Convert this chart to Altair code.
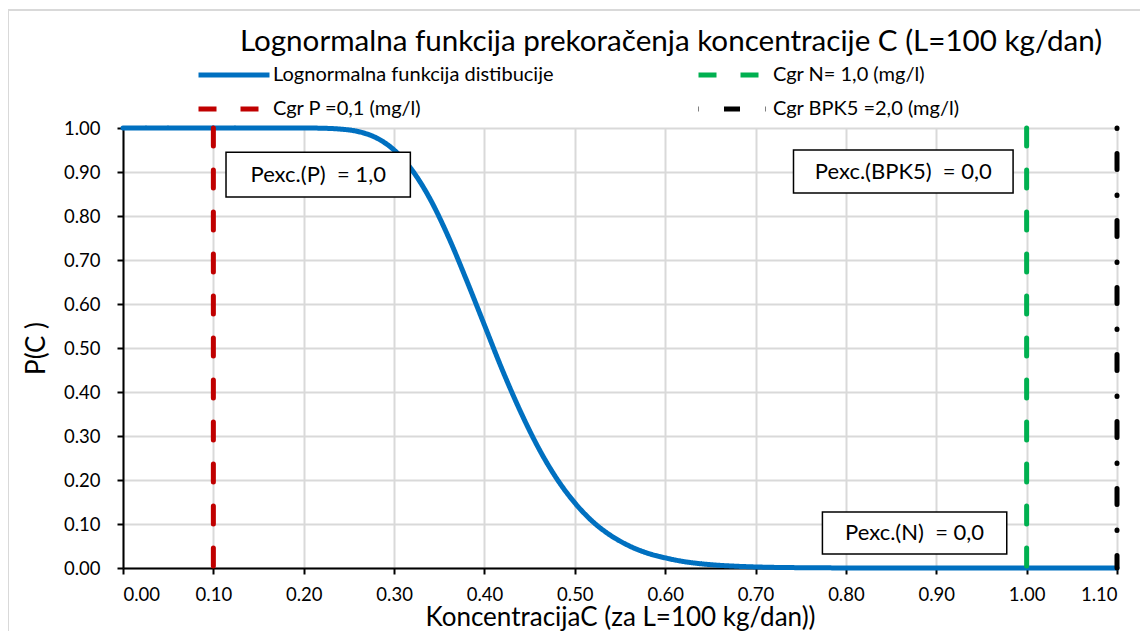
import altair as alt
import pandas as pd

# ---- data ----
conc = [0.00, 0.05, 0.10, 0.15, 0.20, 0.22, 0.24, 0.26, 0.28, 0.30, 0.32, 0.34, 0.36,
        0.38, 0.40, 0.42, 0.44, 0.46, 0.48, 0.50, 0.52, 0.54, 0.56, 0.58, 0.60, 0.62,
        0.64, 0.66, 0.68, 0.70, 0.75, 0.80, 0.90, 1.00, 1.10]
prob = [1.000, 1.000, 1.000, 1.000, 1.000, 0.9995, 0.9976, 0.992, 0.978, 0.950, 0.904,
        0.838, 0.753, 0.655, 0.552, 0.449, 0.355, 0.272, 0.203, 0.148, 0.105, 0.0735,
        0.0504, 0.034, 0.023, 0.0148, 0.0095, 0.0061, 0.0039, 0.0024, 0.0007, 0.0002,
        0.0, 0.0, 0.0]

# legend order (filled column by column): col 1 = curve, P ; col 2 = N, BPK5
series_names = ["Lognormalna funkcija distibucije", "Cgr P =0,1 (mg/l)",
                "Cgr N= 1,0 (mg/l)", "Cgr BPK5 =2,0 (mg/l)"]
series_colors = ["#0070C0", "#C00000", "#00B050", "#000000"]
series_dash = [[1, 0], [18, 24], [18, 24], [0.5, 25, 16, 25.5]]

limit_names = ["Cgr N= 1,0 (mg/l)", "Cgr P =0,1 (mg/l)", "Cgr BPK5 =2,0 (mg/l)"]
limit_x = [1.00, 0.10, 1.10]

NB = "\u00a0"
box_labels = ["Pexc.(P)" + NB + " = 1,0", "Pexc.(BPK5)" + NB + " = 0,0", "Pexc.(N)" + NB + " = 0,0"]
box_x0 = [0.114, 0.742, 0.774]
box_x1 = [0.318, 0.985, 0.978]
box_top = [0.945, 0.950, 0.127]
box_bot = [0.843, 0.852, 0.032]

x_ticks = [0.0, 0.1, 0.2, 0.3, 0.4, 0.5, 0.6, 0.7, 0.8, 0.9, 1.0, 1.1]
y_ticks = [0.0, 0.1, 0.2, 0.3, 0.4, 0.5, 0.6, 0.7, 0.8, 0.9, 1.0]

FONT = "Lato"

curve_df = pd.DataFrame({"x": conc, "y": prob, "series": series_names[0]})
rule_df = pd.DataFrame({"x": limit_x, "top": 1.0, "bottom": 0.0, "series": limit_names})
box_df = pd.DataFrame({"label": box_labels, "x0": box_x0, "x1": box_x1,
                       "top": box_top, "bot": box_bot})
box_df["xm"] = (box_df["x0"] + box_df["x1"]) / 2
box_df["ym"] = (box_df["top"] + box_df["bot"]) / 2

xscale = alt.Scale(domain=[0, 1.1], nice=False, zero=False)
yscale = alt.Scale(domain=[0, 1.0], nice=False)

xaxis = alt.Axis(values=x_ticks, format=".2f", title="KoncentracijaC (za L=100 kg/dan))")
yaxis = alt.Axis(values=y_ticks, format=".2f", title="P(C )")

color = alt.Color("series:N", scale=alt.Scale(domain=series_names, range=series_colors),
                  legend=alt.Legend(title=None))
dash = alt.StrokeDash("series:N", scale=alt.Scale(domain=series_names, range=series_dash),
                      legend=alt.Legend(title=None))

curve = alt.Chart(curve_df).mark_line(strokeWidth=5, interpolate="monotone", strokeCap="round").encode(
    x=alt.X("x:Q", scale=xscale, axis=xaxis),
    y=alt.Y("y:Q", scale=yscale, axis=yaxis),
    color=color,
    strokeDash=dash,
)

rules = alt.Chart(rule_df).mark_rule(strokeWidth=5, strokeCap="round").encode(
    x=alt.X("x:Q", scale=xscale),
    y=alt.Y("top:Q", scale=yscale),
    y2="bottom:Q",
    color=color,
    strokeDash=dash,
)

boxes = alt.Chart(box_df).mark_rect(fill="white", stroke="black", strokeWidth=1.5).encode(
    x=alt.X("x0:Q", scale=xscale), x2="x1:Q",
    y=alt.Y("top:Q", scale=yscale), y2="bot:Q",
)
box_text = alt.Chart(box_df).mark_text(fontSize=22, font=FONT, color="black").encode(
    x=alt.X("xm:Q", scale=xscale), y=alt.Y("ym:Q", scale=yscale), text="label:N"
)

border = alt.Chart(pd.DataFrame({"a": [0]})).mark_rect(
    fillOpacity=0, stroke="#d9d9d9", strokeWidth=2).encode(
    x=alt.value(-115), x2=alt.value(1040), y=alt.value(-118), y2=alt.value(530)
)

chart = alt.layer(border, curve, rules, boxes, box_text).properties(
    width=994, height=440,
    autosize=alt.AutoSizeParams(type="none"),
    padding={"left": 115, "top": 120, "right": 23, "bottom": 63},
    title=alt.TitleParams(
        "Lognormalna funkcija prekoračenja koncentracije C (L=100 kg/dan)",
        fontSize=29.6, font=FONT, fontWeight="normal", color="black",
        anchor="middle", dx=51, offset=-49,
    ),
).configure_view(stroke=None).configure_axis(
    labelFont=FONT, labelFontSize=18.5, labelColor="black",
    titleFont=FONT, titleFontSize=26, titleColor="black", titleFontWeight="normal",
    domainColor="black", domainWidth=2, tickColor="black", tickWidth=2, tickSize=6,
    gridColor="#d9d9d9", gridWidth=2,
).configure_axisX(labelPadding=11, titlePadding=1).configure_axisY(
    labelPadding=17, titlePadding=14
).configure_legend(
    orient="none", legendX=101, legendY=-63, columns=2, columnPadding=134,
    symbolType="M-6,0H6", symbolSize=140, symbolStrokeWidth=5,
    labelFont=FONT, labelFontSize=20, labelColor="black", rowPadding=14, padding=0,
    labelOffset=29, labelLimit=500,
)

chart.save("out.html", embed_options={"renderer": "svg", "actions": False})
